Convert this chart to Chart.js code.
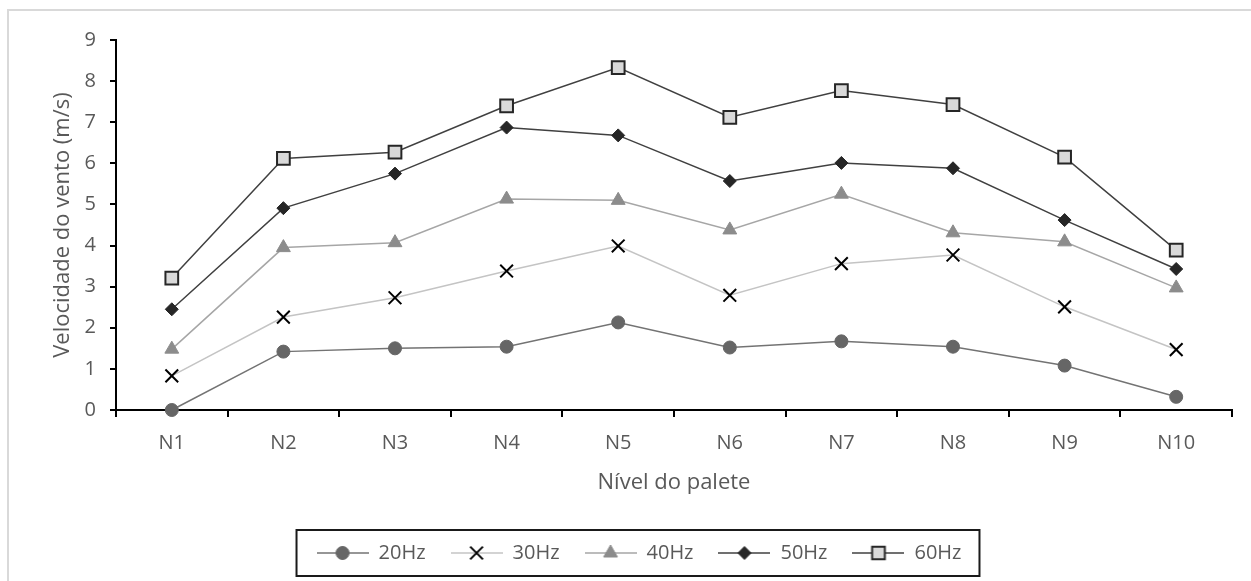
<!DOCTYPE html>
<html lang="pt">
<head>
<meta charset="utf-8">
<title>Velocidade do vento por nível do palete</title>
<script src="https://cdn.jsdelivr.net/npm/chart.js@4/dist/chart.umd.min.js"></script>
<style>
  html, body { margin: 0; padding: 0; background: #fff; }
  #wrap { width: 1251px; height: 581px; }
</style>
</head>
<body>
<div id="wrap"><canvas id="chart" width="1251" height="581"></canvas></div>
<script>
// dados
const niveis = ['N1', 'N2', 'N3', 'N4', 'N5', 'N6', 'N7', 'N8', 'N9', 'N10'];
const hz20 = [0, 1.42, 1.50, 1.54, 2.13, 1.52, 1.67, 1.54, 1.08, 0.32];
const hz30 = [0.83, 2.26, 2.73, 3.38, 3.99, 2.79, 3.56, 3.77, 2.51, 1.47];
const hz40 = [1.48, 3.95, 4.07, 5.13, 5.10, 4.38, 5.25, 4.31, 4.09, 2.97];
const hz50 = [2.45, 4.91, 5.75, 6.87, 6.68, 5.57, 6.01, 5.88, 4.62, 3.43];
const hz60 = [3.21, 6.12, 6.27, 7.40, 8.33, 7.12, 7.77, 7.43, 6.15, 3.89];
const yTicks = [0, 1, 2, 3, 4, 5, 6, 7, 8, 9];

const textColor = '#595959';
const fontFamily = '"Open Sans", "Noto Sans", sans-serif';

// estilos das séries
const series = [
  { label: '20Hz', data: hz20, line: '#737373', style: 'circle',   radius: 6.5, fill: '#666666', stroke: '#666666', bw: 1 },
  { label: '30Hz', data: hz30, line: '#c4c4c4', style: 'crossRot', radius: 9,   fill: '#000000', stroke: '#000000', bw: 2 },
  { label: '40Hz', data: hz40, line: '#a6a6a6', style: 'triangle', radius: 8,   fill: '#8c8c8c', stroke: '#8c8c8c', bw: 1 },
  { label: '50Hz', data: hz50, line: '#404040', style: 'rectRot',  radius: 6.5, fill: '#262626', stroke: '#262626', bw: 1 },
  { label: '60Hz', data: hz60, line: '#404040', style: 'rect',     radius: 9,   fill: '#d9d9d9', stroke: '#262626', bw: 2 }
];

// ícone da legenda: linha com o marcador no meio
function legendIcon(s) {
  const c = document.createElement('canvas');
  c.width = 52; c.height = 22;
  const g = c.getContext('2d');
  const cx = 26, cy = 11, r = s.radius;
  g.strokeStyle = s.line; g.lineWidth = 1.5;
  g.beginPath(); g.moveTo(0, cy); g.lineTo(52, cy); g.stroke();
  g.fillStyle = s.fill; g.strokeStyle = s.stroke; g.lineWidth = s.bw;
  g.beginPath();
  if (s.style === 'circle') {
    g.arc(cx, cy, r, 0, Math.PI * 2);
  } else if (s.style === 'triangle') {
    g.moveTo(cx, cy - r);
    g.lineTo(cx + r * Math.sin(Math.PI * 2 / 3), cy + r / 2);
    g.lineTo(cx - r * Math.sin(Math.PI * 2 / 3), cy + r / 2);
    g.closePath();
  } else if (s.style === 'rectRot') {
    g.moveTo(cx, cy - r); g.lineTo(cx + r, cy); g.lineTo(cx, cy + r); g.lineTo(cx - r, cy);
    g.closePath();
  } else if (s.style === 'rect') {
    const h = r * Math.SQRT1_2;
    g.rect(cx - h, cy - h, 2 * h, 2 * h);
  } else if (s.style === 'crossRot') {
    const h = r * Math.SQRT1_2;
    g.moveTo(cx - h, cy - h); g.lineTo(cx + h, cy + h);
    g.moveTo(cx + h, cy - h); g.lineTo(cx - h, cy + h);
    g.stroke();
    return c;
  }
  g.fill(); g.stroke();
  return c;
}
const icons = series.map(legendIcon);

// moldura cinza e caixa da legenda
const framePlugin = {
  id: 'frame',
  beforeDraw(chart) {
    const ctx = chart.ctx;
    ctx.save();
    ctx.strokeStyle = '#d9d9d9';
    ctx.lineWidth = 2;
    ctx.beginPath();
    ctx.moveTo(8, chart.height); ctx.lineTo(8, 10); ctx.lineTo(chart.width, 10);
    ctx.stroke();
    ctx.restore();
  },
  afterDraw(chart) {
    const boxes = chart.legend && chart.legend.legendHitBoxes;
    if (!boxes || !boxes.length) return;
    const first = boxes[0], last = boxes[boxes.length - 1];
    const cy = first.top + first.height / 2;
    const ctx = chart.ctx;
    ctx.save();
    ctx.strokeStyle = '#1a1a1a';
    ctx.lineWidth = 2;
    ctx.strokeRect(first.left - 20, cy - 23, last.left + last.width - first.left + 38, 46);
    ctx.restore();
  }
};

new Chart(document.getElementById('chart'), {
  type: 'line',
  data: {
    labels: niveis,
    datasets: series.map(s => ({
      label: s.label,
      data: s.data,
      borderColor: s.line,
      borderWidth: 1.5,
      backgroundColor: s.fill,
      pointStyle: s.style,
      pointRadius: s.radius,
      pointHoverRadius: s.radius,
      pointBackgroundColor: s.fill,
      pointBorderColor: s.stroke,
      pointBorderWidth: s.bw,
      tension: 0,
      clip: false
    }))
  },
  options: {
    responsive: false,
    animation: false,
    layout: { padding: { left: 46, right: 19, top: 40, bottom: 8 } },
    plugins: {
      tooltip: { enabled: false },
      legend: {
        position: 'bottom',
        labels: {
          usePointStyle: true,
          pointStyleWidth: 52,
          padding: 25,
          color: textColor,
          font: { family: fontFamily, size: 20 },
          generateLabels: () => series.map((s, i) => ({
            text: s.label,
            pointStyle: icons[i],
            fontColor: textColor,
            datasetIndex: i,
            hidden: false,
            lineWidth: 0
          }))
        }
      }
    },
    scales: {
      x: {
        offset: true,
        grid: { offset: true, drawOnChartArea: false, color: '#000', lineWidth: 2, tickLength: 7 },
        border: { color: '#000', width: 2 },
        ticks: { color: textColor, font: { family: fontFamily, size: 20 }, padding: 14 },
        title: {
          display: true,
          text: 'Nível do palete',
          color: textColor,
          font: { family: fontFamily, size: 22 },
          padding: { top: 0, bottom: 22 }
        },
        afterFit(scale) {
          const lg = scale.chart.legend ? scale.chart.legend.height : 0;
          scale.height = 581 - 8 - lg - 410;
        }
      },
      y: {
        min: 0,
        max: 9,
        afterBuildTicks(scale) { scale.ticks = yTicks.map(v => ({ value: v })); },
        grid: { drawOnChartArea: false, color: '#000', lineWidth: 2, tickLength: 6 },
        border: { color: '#000', width: 2 },
        ticks: { color: textColor, font: { family: fontFamily, size: 20 }, padding: 14 },
        title: {
          display: true,
          text: 'Velocidade do vento (m/s)',
          color: textColor,
          font: { family: fontFamily, size: 22 },
          padding: { top: 4, bottom: 0 }
        },
        afterFit(scale) { scale.width = 70; }
      }
    }
  },
  plugins: [framePlugin]
});
</script>
</body>
</html>
